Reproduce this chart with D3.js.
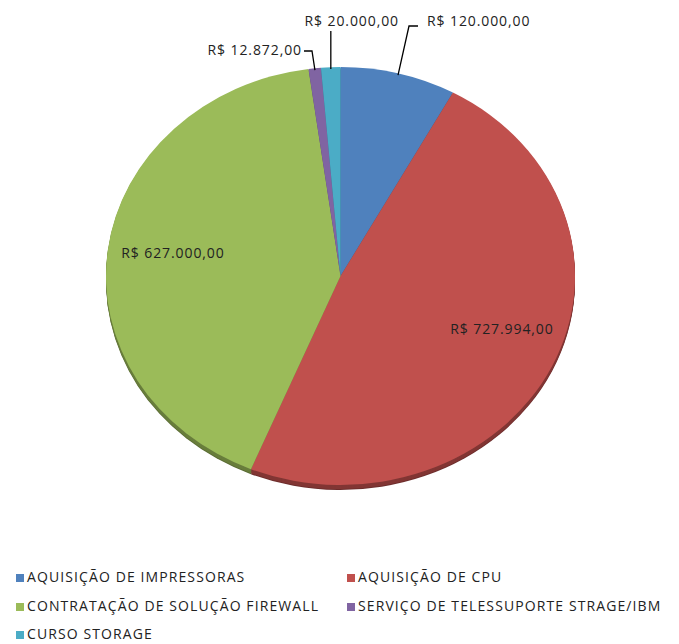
<!DOCTYPE html>
<html>
<head>
<meta charset="utf-8">
<script src="https://cdn.jsdelivr.net/npm/d3@7"></script>
<style>
  body { margin: 0; background: #fff; }
  svg { display: block; }
</style>
</head>
<body>
<svg id="chart" width="679" height="644"></svg>
<script>
// dados
const categories = [
    "AQUISIÇÃO DE IMPRESSORAS",
    "AQUISIÇÃO DE CPU",
    "CONTRATAÇÃO DE SOLUÇÃO FIREWALL",
    "SERVIÇO DE TELESSUPORTE STRAGE/IBM",
    "CURSO STORAGE"
]
const values = [120000, 727994, 627000, 12872, 20000]
const value_labels = ["R$ 120.000,00", "R$ 727.994,00", "R$ 627.000,00", "R$ 12.872,00", "R$ 20.000,00"]
const colors = ["#4F81BD", "#C0504D", "#9BBB59", "#8064A2", "#4BACC6"]

const svg = d3.select('#chart')
const font = "'Open Sans', 'DejaVu Sans', sans-serif"

/* elipse da pizza (efeito 3D) */
const cx = 340.5, cy = 276, rx = 234.5, ry = 209, depth = 5

const data = categories.map((c, i) => ({cat: c, value: values[i], label: value_labels[i], color: colors[i]}))

const pie = d3.pie().sort(null).value(d => d.value)
const arcs = pie(data)
const arc = d3.arc().innerRadius(0).outerRadius(rx)

/* lateral: camadas escuras empilhadas */
for (let k = depth; k >= 1; k--) {
    svg.append('g')
        .attr('transform', `translate(${cx},${cy + k}) scale(1,${ry / rx})`)
        .selectAll('path')
        .data(arcs)
        .join('path')
        .attr('d', arc)
        .attr('fill', d => d3.color(d.data.color).darker(k == depth ? 1.6 : 1.1))
}

/* topo */
svg.append('g')
    .attr('transform', `translate(${cx},${cy}) scale(1,${ry / rx})`)
    .selectAll('path')
    .data(arcs)
    .join('path')
    .attr('d', arc)
    .attr('fill', d => d.data.color)

const pt = (angle, r) => [cx + r * Math.sin(angle), cy - r * (ry / rx) * Math.cos(angle)]

const label_style = sel => sel
    .style('font-family', font).style('font-size', '14px')
    .style('letter-spacing', '0.9px')
    .attr('fill', '#222')

/* rótulos dentro das fatias grandes */
const inside = {1: [502, 334], 2: [173, 258]}
Object.entries(inside).forEach(([i, p]) => {
    svg.append('text')
        .attr('x', p[0]).attr('y', p[1])
        .attr('text-anchor', 'middle')
        .call(label_style)
        .text(value_labels[i])
})

/* rótulos externos com linhas guia */
const outside = [
    {i: 0, tx: 427, ty: 26, anchor: 'start', path: e => [[418, 26], [409, 26], e]},
    {i: 4, tx: 399, ty: 26, anchor: 'end', path: e => [[e[0], 31], e]},
    {i: 3, tx: 302, ty: 55, anchor: 'end', path: e => [[304, 51], [312, 51], e]}
]
outside.forEach(o => {
    const a = arcs[o.i]
    const mid = (a.startAngle + a.endAngle) / 2
    svg.append('path')
        .attr('d', d3.line()(o.path(pt(mid, rx - 2))))
        .attr('fill', 'none')
        .attr('stroke', '#000')
        .attr('stroke-width', 1.3)
    svg.append('text')
        .attr('x', o.tx).attr('y', o.ty)
        .attr('text-anchor', o.anchor)
        .call(label_style)
        .text(value_labels[o.i])
})

/* legenda */
const leg_x = [16, 347], leg_y = [582, 611, 639]
const legend = svg.append('g')
    .selectAll('g')
    .data(data)
    .join('g')
    .attr('transform', (d, i) => `translate(${leg_x[i % 2]},${leg_y[Math.floor(i / 2)]})`)
legend.append('rect')
    .attr('x', 0).attr('y', -8)
    .attr('width', 8).attr('height', 8)
    .attr('fill', d => d.color)
legend.append('text')
    .attr('x', 11).attr('y', 0)
    .style('font-family', font).style('font-size', '14px')
    .style('letter-spacing', '1.1px')
    .attr('fill', '#222')
    .text(d => d.cat)
</script>
</body>
</html>
